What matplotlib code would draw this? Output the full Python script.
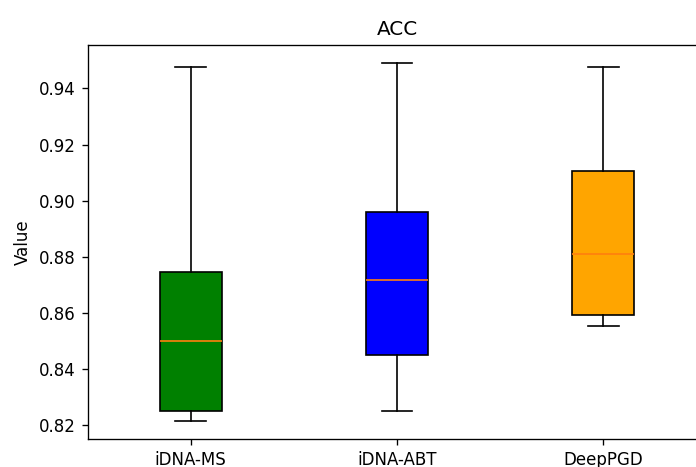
import matplotlib
matplotlib.use("Agg")
import matplotlib.pyplot as plt

# box statistics
models = ["iDNA-MS", "iDNA-ABT", "DeepPGD"]
whisker_low = [0.8214, 0.8249, 0.8552]
q1 = [0.8250, 0.8449, 0.8591]
median = [0.8500, 0.8717, 0.8811]
q3 = [0.8746, 0.8959, 0.9105]
whisker_high = [0.9475, 0.9491, 0.9478]
colors = ["green", "blue", "orange"]

stats = []
for i, name in enumerate(models):
    stats.append({
        "label": name,
        "whislo": whisker_low[i],
        "q1": q1[i],
        "med": median[i],
        "q3": q3[i],
        "whishi": whisker_high[i],
        "fliers": [],
    })

fig = plt.figure(figsize=(6.96 / 1.2, 4.67 / 1.2), dpi=120)
# right edge of the axes runs past the picture, as in the reference
ax = fig.add_axes([87.5 / 696, 1 - 439 / 467, 619 / 696, 394 / 467])

bp = ax.bxp(stats, widths=0.3, patch_artist=True, showfliers=False)
for patch, c in zip(bp["boxes"], colors):
    patch.set_facecolor(c)
    patch.set_edgecolor("black")

ax.set_title("ACC")
ax.set_ylabel("Value")
ax.set_yticks([0.82, 0.84, 0.86, 0.88, 0.90, 0.92, 0.94])

fig.savefig("out.png", dpi=120)
